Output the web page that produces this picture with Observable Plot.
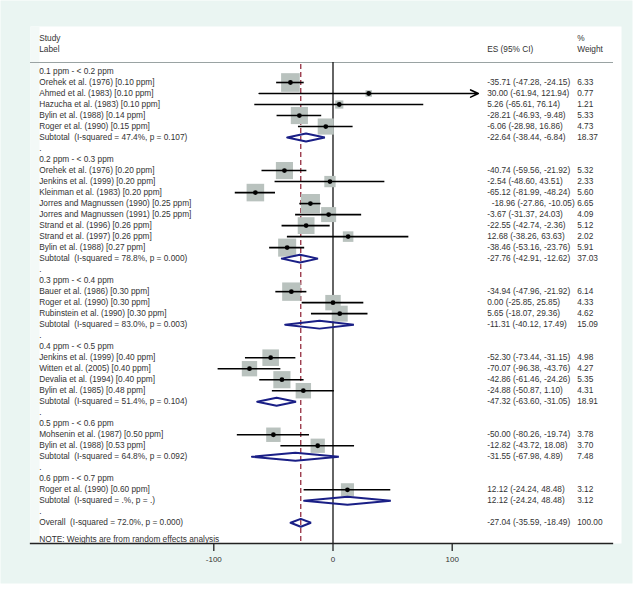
<!DOCTYPE html>
<html>
<head>
<meta charset="utf-8">
<script src="https://cdn.jsdelivr.net/npm/d3@7"></script>
<script src="https://cdn.jsdelivr.net/npm/@observablehq/plot@0.6"></script>
<style>
  html, body { margin: 0; padding: 0; background: #ffffff; }
  svg text { white-space: pre; }
</style>
</head>
<body>
<div id="chart"></div>
<script>
// ---------------- DATA ----------------
const groupLabels = [
  "0.1 ppm - < 0.2 ppm",
  "0.2 ppm - < 0.3 ppm",
  "0.3 ppm - < 0.4 ppm",
  "0.4 ppm - < 0.5 ppm",
  "0.5 ppm - < 0.6 ppm",
  "0.6 ppm - < 0.7 ppm"
];

const studyLabels = [
  "Orehek et al. (1976) [0.10 ppm]",
  "Ahmed et al. (1983) [0.10 ppm]",
  "Hazucha et al. (1983) [0.10 ppm]",
  "Bylin et al. (1988) [0.14 ppm]",
  "Roger et al. (1990) [0.15 ppm]",
  "Orehek et al. (1976) [0.20 ppm]",
  "Jenkins et al. (1999) [0.20 ppm]",
  "Kleinman et al. (1983) [0.20 ppm]",
  "Jorres and Magnussen (1990) [0.25 ppm]",
  "Jorres and Magnussen (1991) [0.25 ppm]",
  "Strand et al. (1996) [0.26 ppm]",
  "Strand et al. (1997) [0.26 ppm]",
  "Bylin et al. (1988) [0.27 ppm]",
  "Bauer et al. (1986) [0.30 ppm]",
  "Roger et al. (1990) [0.30 ppm]",
  "Rubinstein et al. (1990) [0.30 ppm]",
  "Jenkins et al. (1999) [0.40 ppm]",
  "Witten et al. (2005) [0.40 ppm]",
  "Devalia et al. (1994) [0.40 ppm]",
  "Bylin et al. (1985) [0.48 ppm]",
  "Mohsenin et al. (1987) [0.50 ppm]",
  "Bylin et al. (1988) [0.53 ppm]",
  "Roger et al. (1990) [0.60 ppm]"
];
const studyGroup = [0,0,0,0,0, 1,1,1,1,1,1,1,1, 2,2,2, 3,3,3,3, 4,4, 5];
const studyES = [-35.71, 30.00, 5.26, -28.21, -6.06,
  -40.74, -2.54, -65.12, -18.96, -3.67, -22.55, 12.68, -38.46,
  -34.94, 0.00, 5.65,
  -52.30, -70.07, -42.86, -24.88,
  -50.00, -12.82,
  12.12];
const studyLo = [-47.28, -61.94, -65.61, -46.93, -28.98,
  -59.56, -48.60, -81.99, -27.86, -31.37, -42.74, -38.26, -53.16,
  -47.96, -25.85, -18.07,
  -73.44, -96.38, -61.46, -50.87,
  -80.26, -43.72,
  -24.24];
const studyHi = [-24.15, 121.94, 76.14, -9.48, 16.86,
  -21.92, 43.51, -48.24, -10.05, 24.03, -2.36, 63.63, -23.76,
  -21.92, 25.85, 29.36,
  -31.15, -43.76, -24.26, 1.10,
  -19.74, 18.08,
  48.48];
const studyWeight = [6.33, 0.77, 1.21, 5.33, 4.73,
  5.32, 2.33, 5.60, 6.65, 4.09, 5.12, 2.02, 5.91,
  6.14, 4.33, 4.62,
  4.98, 4.27, 5.35, 4.31,
  3.78, 3.70,
  3.12];

const subtotalLabels = [
  "Subtotal  (I-squared = 47.4%, p = 0.107)",
  "Subtotal  (I-squared = 78.8%, p = 0.000)",
  "Subtotal  (I-squared = 83.0%, p = 0.003)",
  "Subtotal  (I-squared = 51.4%, p = 0.104)",
  "Subtotal  (I-squared = 64.8%, p = 0.092)",
  "Subtotal  (I-squared = .%, p = .)"
];
const subtotalES = [-22.64, -27.76, -11.31, -47.32, -31.55, 12.12];
const subtotalLo = [-38.44, -42.91, -40.12, -63.60, -67.98, -24.24];
const subtotalHi = [-6.84, -12.62, 17.49, -31.05, 4.89, 48.48];
const subtotalWeight = [18.37, 37.03, 15.09, 18.91, 7.48, 3.12];

const overallLabel = "Overall  (I-squared = 72.0%, p = 0.000)";
const overallES = -27.04, overallLo = -35.59, overallHi = -18.49, overallWeight = 100.00;

const headerLeft = ["Study", "Label"];
const headerES = "ES (95% CI)";
const headerWeight = ["%", "Weight"];
const noteText = "NOTE: Weights are from random effects analysis";
const xTicks = [-100, 0, 100];

// ---------------- LAYOUT (row indices) ----------------
const fmt = v => v.toFixed(2);
const ciText = (e, l, h) => `${fmt(e)} (${fmt(l)}, ${fmt(h)})`;

const studies = [], subtotals = [], textRows = [];
let row = 0;
groupLabels.forEach((g, gi) => {
  textRows.push({row, label: g});
  row++;
  studyLabels.forEach((s, i) => {
    if (studyGroup[i] !== gi) return;
    const d = {row, label: s, es: studyES[i], lo: studyLo[i], hi: studyHi[i], w: studyWeight[i]};
    studies.push(d);
    textRows.push({row, label: s, ci: ciText(d.es, d.lo, d.hi), wt: fmt(d.w), shift: s.startsWith("Jorres and Magnussen (1990)")});
    row++;
  });
  const sd = {row, id: gi, es: subtotalES[gi], lo: subtotalLo[gi], hi: subtotalHi[gi]};
  subtotals.push(sd);
  textRows.push({row, label: subtotalLabels[gi], ci: ciText(sd.es, sd.lo, sd.hi), wt: fmt(subtotalWeight[gi])});
  row++;
  textRows.push({row, label: "."});
  row++;
});
const overallRow = row;
subtotals.push({row: overallRow, id: "overall", es: overallES, lo: overallLo, hi: overallHi});
textRows.push({row: overallRow, label: overallLabel, ci: ciText(overallES, overallLo, overallHi), wt: fmt(overallWeight)});

const headerRows = [
  {row: -3, left: headerLeft[0], wt: headerWeight[0]},
  {row: -2, left: headerLeft[1], ci: headerES, wt: headerWeight[1]}
];

// diamonds
const halfH = 0.36;
const diamondPts = subtotals.flatMap(s => [
  {id: s.id, x: s.lo, y: s.row},
  {id: s.id, x: s.es, y: s.row - halfH},
  {id: s.id, x: s.hi, y: s.row},
  {id: s.id, x: s.es, y: s.row + halfH},
  {id: s.id, x: s.lo, y: s.row}
]);

const xMin = -100, xMax = 100;
const plainCI = studies.filter(d => d.hi <= xMax + 10 && d.lo >= xMin - 10);
const arrowCI = studies.filter(d => !(d.hi <= xMax + 10 && d.lo >= xMin - 10));

const textColor = "#333333";
const fontFamily = "'Liberation Sans', Arial, Helvetica, sans-serif";
const fs = 8.3;

const chart = Plot.plot({
  width: 637,
  height: 601,
  marginLeft: 30,
  marginRight: 16,
  marginTop: 26,
  marginBottom: 58,
  x: {domain: [-100, 100], range: [213.3, 451.7], axis: null},
  y: {domain: [0, 41], range: [71, 522.3], axis: null},
  r: {type: "sqrt", domain: [0, 6.65], range: [0, 10.8]},
  style: {background: "transparent", fontFamily, fontSize: fs + "px", color: textColor},
  marks: [
    // outer mint graph region
    Plot.frame({fill: "#eaf5f2", stroke: null, insetLeft: -30, insetTop: -26, insetRight: -11, insetBottom: -40}),
    // white plot panel
    Plot.frame({fill: "#ffffff", stroke: null}),
    Plot.frame({fill: "#f3f9f7", stroke: null, insetRight: 582}),
    // header separator
    Plot.frame({anchor: "top", insetTop: 36, insetRight: 9, stroke: "#9aa3a3", strokeWidth: 1}),
    // no-effect line
    Plot.ruleX([0], {insetTop: 36, stroke: "#111", strokeWidth: 1.3}),
    // overall effect dashed line
    Plot.ruleX([overallES], {insetTop: 38, stroke: "#8c1c30", strokeWidth: 1.2, strokeDasharray: "5,3"}),
    // weight squares
    Plot.dot(studies, {x: "es", y: "row", r: "w", symbol: "square", fill: "#b9c2be", stroke: null}),
    // confidence intervals
    Plot.ruleY(plainCI, {y: "row", x1: "lo", x2: "hi", stroke: "#000", strokeWidth: 1.6}),
    Plot.arrow(arrowCI, {x1: "lo", x2: "hi", y1: "row", y2: "row", stroke: "#000", strokeWidth: 1.6, headLength: 8, headAngle: 50}),
    // point estimates
    Plot.dot(studies, {x: "es", y: "row", r: 2.4, fill: "#000", stroke: null}),
    // diamonds
    Plot.line(diamondPts, {x: "x", y: "y", z: "id", stroke: "#1a1f86", strokeWidth: 2, strokeLinejoin: "miter", curve: "linear"}),
    // header texts
    Plot.text(headerRows, {y: "row", text: "left", frameAnchor: "left", dx: 8.7, textAnchor: "start", fill: textColor}),
    Plot.text(headerRows.filter(d => d.ci), {y: "row", text: "ci", frameAnchor: "left", dx: 456.7, textAnchor: "start", fill: textColor}),
    Plot.text(headerRows, {y: "row", text: "wt", frameAnchor: "left", dx: 546.7, textAnchor: "start", fill: textColor}),
    // row labels
    Plot.text(textRows, {y: "row", text: "label", frameAnchor: "left", dx: 8.7, textAnchor: "start", fill: textColor}),
    Plot.text(textRows.filter(d => d.ci && !d.shift), {y: "row", text: "ci", frameAnchor: "left", dx: 456.7, textAnchor: "start", fill: textColor}),
    Plot.text(textRows.filter(d => d.ci && d.shift), {y: "row", text: "ci", frameAnchor: "left", dx: 461.2, textAnchor: "start", fill: textColor}),
    Plot.text(textRows.filter(d => d.wt), {y: "row", text: "wt", frameAnchor: "left", dx: 546.7, textAnchor: "start", fill: textColor}),
    // note
    Plot.text([{row: overallRow + 1.5, t: noteText}], {y: "row", text: "t", frameAnchor: "left", dx: 8.7, textAnchor: "start", fill: textColor}),
    // axis line
    Plot.frame({anchor: "bottom", insetRight: 9, stroke: "#222", strokeWidth: 1.3}),
    Plot.axisX(xTicks, {anchor: "bottom", tickSize: 8, tickPadding: 5, tickFormat: d => String(d), stroke: "#222", strokeWidth: 1.3, fill: textColor, fontSize: 8})
  ]
});

document.getElementById("chart").appendChild(chart);
</script>
</body>
</html>
